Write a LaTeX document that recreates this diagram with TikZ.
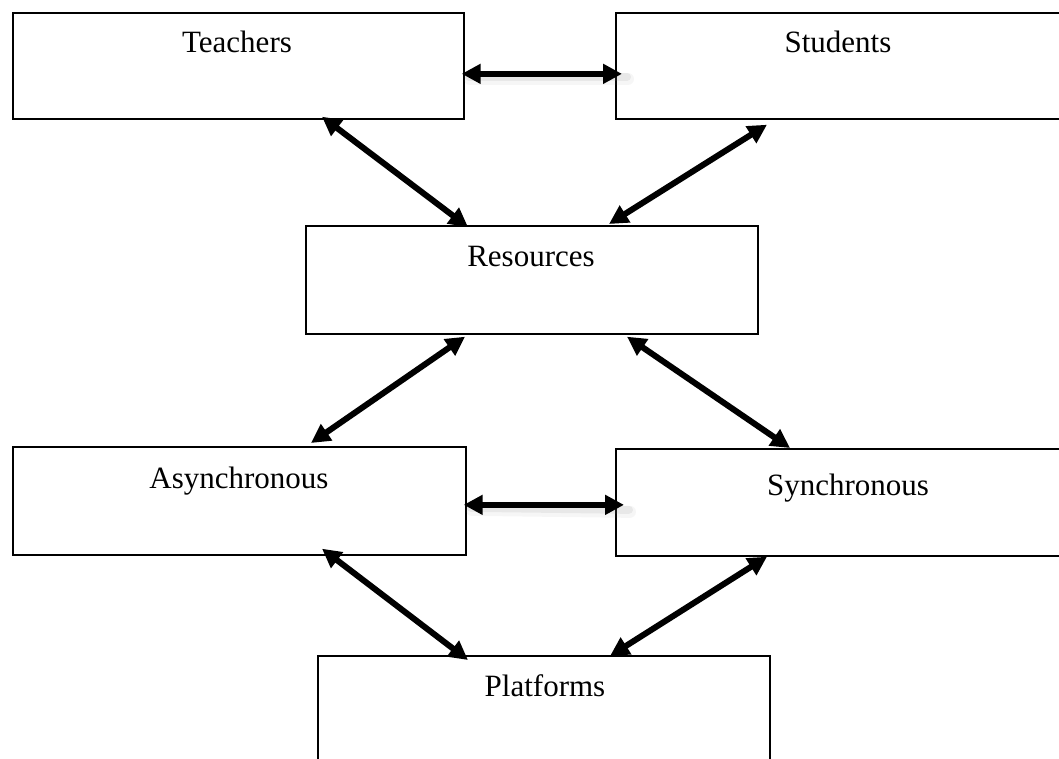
\documentclass[tikz,border=0pt]{standalone}
\usepackage{fontspec}
\setmainfont{Liberation Serif}
\usetikzlibrary{arrows.meta,calc}
\begin{document}
\begin{tikzpicture}[x=1pt,y=-1pt,
  boxnode/.style={draw=black,line width=1.7pt,rectangle,inner sep=0pt,anchor=north west},
  labelnode/.style={anchor=base,inner sep=0pt,font=\fontsize{31}{36}\selectfont},
  dbl/.style={line width=6pt,{Triangle[length=19pt,width=19pt]}-{Triangle[length=19pt,width=19pt]}},
  shadowline/.style={line width=8pt,draw=gray,opacity=0.12,line cap=round}
]
\useasboundingbox (0,0) rectangle (1059,758);
\clip (0,0) rectangle (1059,758);
% boxes
\node[boxnode,minimum width=451pt,minimum height=106pt] (T) at (12,12) {};
\node[boxnode,minimum width=470pt,minimum height=106pt] (S) at (615,12) {};
\node[boxnode,minimum width=452pt,minimum height=108pt] (R) at (305,225) {};
\node[boxnode,minimum width=453pt,minimum height=108pt] (A) at (12,446) {};
\node[boxnode,minimum width=470pt,minimum height=107pt] (Y) at (615,448) {};
\node[boxnode,minimum width=452pt,minimum height=150pt] (P) at (317,655) {};
% labels
\node[labelnode] (Tt) at (237,52) {Teachers};
\node[labelnode] (St) at (838,52) {Students};
\node[labelnode] (Rt) at (531,266) {Resources};
\node[labelnode] (At) at (239,488) {Asynchronous};
\node[labelnode] (Yt) at (848,495) {Synchronous};
\node[labelnode] (Pt) at (545,696) {Platforms};
% soft shadows of horizontal arrows
\draw[shadowline] ([shift={(4,11)}]T.east) -- ([shift={(12,11)}]S.west);
\draw[shadowline,line width=12pt,opacity=0.07] ([shift={(5,13)}]T.east) -- ([shift={(13,13)}]S.west);
\draw[shadowline] ([shift={(4,7)}]A.east) -- ([shift={(14,7.5)}]Y.west);
\draw[shadowline,line width=12pt,opacity=0.07] ([shift={(5,9)}]A.east) -- ([shift={(15,9.5)}]Y.west);
% arrows
\draw[dbl] ([shift={(-3,8)}]T.east) -- ([shift={(7,8)}]S.west);
\draw[dbl] ([shift={(310,-3)}]T.south west) -- ([shift={(163,2)}]R.north west);
\draw[dbl] ([shift={(152,5)}]S.south west) -- ([shift={(304,-1)}]R.north west);
\draw[dbl] ([shift={(160,2)}]R.south west) -- ([shift={(299,-3)}]A.north west);
\draw[dbl] ([shift={(322,2)}]R.south west) -- ([shift={(175,0)}]Y.north west);
\draw[dbl] ([shift={(-3,4)}]A.east) -- ([shift={(9,2.5)}]Y.west);
\draw[dbl] ([shift={(310,-7)}]A.south west) -- ([shift={(151,5)}]P.north west);
\draw[dbl] ([shift={(152,0)}]Y.south west) -- ([shift={(293,1)}]P.north west);
\end{tikzpicture}
\end{document}
